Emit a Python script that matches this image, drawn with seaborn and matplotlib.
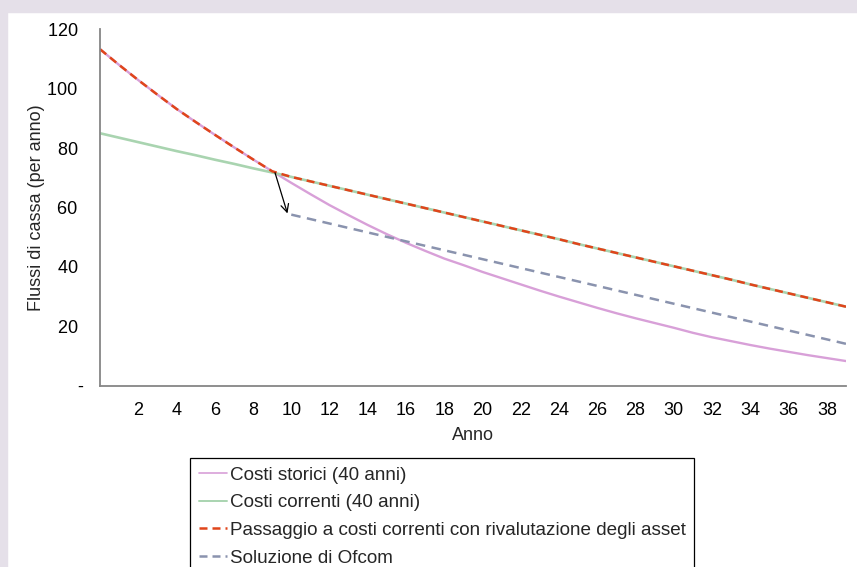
import pandas as pd
import seaborn as sns
import matplotlib.pyplot as plt
from matplotlib.lines import Line2D
from matplotlib.patches import Rectangle

# Anni (0-39)
anni = list(range(40))
anni_ofcom = list(range(10, 40))

# Serie
costi_storici = [113.3, 108.0, 102.9, 98.0, 93.2, 88.8, 84.5, 80.3, 76.2, 72.2,
                 68.3, 64.5, 60.8, 57.4, 54.1, 51.0, 48.1, 45.4, 42.8, 40.6,
                 38.3, 36.2, 34.1, 32.0, 30.0, 28.1, 26.2, 24.4, 22.7, 21.1,
                 19.5, 17.8, 16.3, 15.0, 13.7, 12.5, 11.4, 10.3, 9.3, 8.3]
costi_correnti = [85.0, 83.5, 82.0, 80.5, 79.0, 77.6, 76.1, 74.7, 73.2, 71.8,
                  70.3, 68.8, 67.3, 65.8, 64.3, 62.8, 61.3, 59.8, 58.3, 56.8,
                  55.3, 53.8, 52.3, 50.8, 49.3, 47.7, 46.2, 44.7, 43.2, 41.7,
                  40.2, 38.7, 37.2, 35.7, 34.1, 32.6, 31.1, 29.6, 28.1, 26.6]
passaggio = [113.3, 108.0, 102.9, 98.0, 93.2, 88.8, 84.5, 80.3, 76.2, 72.2,
             70.3, 68.8, 67.3, 65.8, 64.3, 62.8, 61.3, 59.8, 58.3, 56.8,
             55.3, 53.8, 52.3, 50.8, 49.3, 47.7, 46.2, 44.7, 43.2, 41.7,
             40.2, 38.7, 37.2, 35.7, 34.1, 32.6, 31.1, 29.6, 28.1, 26.6]
ofcom = [57.6, 56.1, 54.6, 53.1, 51.6, 50.1, 48.6, 47.1, 45.6, 44.1,
         42.6, 41.1, 39.6, 38.1, 36.6, 35.1, 33.6, 32.1, 30.6, 29.1,
         27.6, 26.1, 24.6, 23.1, 21.6, 20.1, 18.6, 17.1, 15.6, 14.1]

labels = ["Costi storici (40 anni)",
          "Costi correnti (40 anni)",
          "Passaggio a costi correnti con rivalutazione degli asset",
          "Soluzione di Ofcom"]
colors = ["#D8A0D8", "#A9D4B0", "#E0451B", "#8A93AE"]

x_ticks = list(range(0, 39, 2))
x_ticklabels = [""] + [str(t) for t in x_ticks[1:]]
y_ticks = [0, 20, 40, 60, 80, 100, 120]
y_ticklabels = ["-", "20 ", "40 ", "60 ", "80 ", "100 ", "120 "]

sns.set_theme(style="white")
plt.rcParams['font.family'] = ['Liberation Sans', 'DejaVu Sans']

fig = plt.figure(figsize=(8.57, 5.67), dpi=100)
fig.patch.set_facecolor("white")
# cornice lilla (alto e sinistra)
fig.patches.append(Rectangle((0, 1 - 12 / 567), 1, 12 / 567, transform=fig.transFigure,
                             color="#E5E0E9", zorder=0))
fig.patches.append(Rectangle((0, 0), 7 / 857, 1, transform=fig.transFigure,
                             color="#E5E0E9", zorder=0))

ax = fig.add_axes([100 / 857, 1 - 385.7 / 567, 746 / 857, 356.4 / 567])
ax.set_facecolor("none")

sns.lineplot(x=anni, y=costi_storici, color=colors[0], lw=1.7, ax=ax)
sns.lineplot(x=anni, y=costi_correnti, color=colors[1], lw=1.9, ax=ax)
sns.lineplot(x=anni, y=passaggio, color=colors[2], lw=1.8, ax=ax).lines[-1].set_dashes((3.2, 2.0))
sns.lineplot(x=anni_ofcom, y=ofcom, color=colors[3], lw=1.8, ax=ax).lines[-1].set_dashes((3.8, 2.6))

# freccia dal punto di incrocio all'inizio della soluzione Ofcom
ax.annotate("", xy=(9.8, 58.0), xytext=(9.15, 71.7),
            arrowprops=dict(arrowstyle="->", color="black", lw=0.9,
                            mutation_scale=14, shrinkA=0, shrinkB=0))

ax.set_xlim(0, 39)
ax.set_ylim(0, 120)
ax.set_xticks(x_ticks)
ax.set_xticklabels(x_ticklabels)
ax.set_yticks(y_ticks)
ax.set_yticklabels(y_ticklabels)
ax.tick_params(axis="both", which="major", direction="out", length=4.5, width=1,
               color="#868686", labelsize=13, labelcolor="black")
ax.tick_params(axis="y", pad=8)
ax.tick_params(axis="x", pad=7)
sns.despine(ax=ax)
for s in ["left", "bottom"]:
    ax.spines[s].set_color("#868686")
    ax.spines[s].set_linewidth(1.3)

ax.set_xlabel("Anno", fontsize=13, labelpad=6)
ax.set_ylabel("Flussi di cassa (per anno)", fontsize=13, labelpad=2)

handles = [Line2D([], [], color=colors[0], lw=1.2),
           Line2D([], [], color=colors[1], lw=1.4),
           Line2D([], [], color=colors[2], lw=1.8, dashes=(3.2, 2.0)),
           Line2D([], [], color=colors[3], lw=1.8, dashes=(3.2, 2.0))]
leg = ax.legend(handles, labels, loc="upper left",
                bbox_to_anchor=(190 / 857, 1 - 458 / 567), bbox_transform=fig.transFigure,
                borderaxespad=0, frameon=True, fancybox=False, edgecolor="black",
                framealpha=1, fontsize=13.6, handlelength=1.5, handletextpad=0.15,
                labelspacing=0.55, borderpad=0.45)
leg.get_frame().set_linewidth(0.9)

fig.savefig("out.png", dpi=100)
